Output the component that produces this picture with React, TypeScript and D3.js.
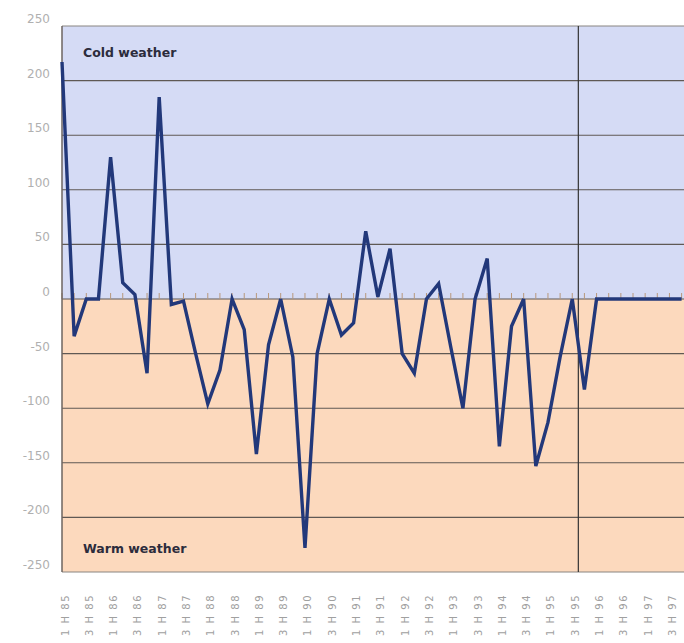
import React from "react";
import * as d3 from "d3";

const values: number[] = [
  217, -34, 0, 0, 130, 15, 4, -68, 185, -5, -2, -50, -96, -65, 0, -28,
  -142, -42, 0, -53, -228, -50, 0, -33, -22, 62, 2, 46, -50, -68, 0, 14,
  -44, -100, 0, 37, -135, -25, 0, -153, -113, -53, 0, -83, 0, 0, 0, 0,
  0, 0, 0, 0,
];

const tickLabels: string[] = [
  "1 H 85", "3 H 85", "1 H 86", "3 H 86", "1 H 87", "3 H 87", "1 H 88",
  "3 H 88", "1 H 89", "3 H 89", "1 H 90", "3 H 90", "1 H 91", "3 H 91",
  "1 H 92", "3 H 92", "1 H 93", "3 H 93", "1 H 94", "3 H 94", "1 H 95",
  "3 H 95", "1 H 96", "3 H 96", "1 H 97", "3 H 97",
];

const yTicks: number[] = [250, 200, 150, 100, 50, 0, -50, -100, -150, -200, -250];
const markerIndex = 42.5;
const zoneLabels: string[] = ["Cold weather", "Warm weather"];

export default function App() {
  const W = 684;
  const H = 643;
  const left = 62;
  const right = 684;
  const top = 26;
  const bottom = 572;

  const x = d3.scaleLinear().domain([0, values.length - 1]).range([left, 681.6]);
  const y = d3.scaleLinear().domain([-250, 250]).range([bottom, top]);

  const line = d3
    .line<number>()
    .x((_, i) => x(i))
    .y((d) => y(d));

  const font = "'DejaVu Sans', sans-serif";

  return (
    <svg
      width={W}
      height={H}
      style={{ position: "absolute", left: 0, top: 0, background: "#fff" }}
    >
      <rect x={left} y={y(250)} width={right - left} height={y(0) - y(250)} fill="#d5dbf5" />
      <rect x={left} y={y(0)} width={right - left} height={y(-250) - y(0)} fill="#fcd9bd" />

      {yTicks.map((t) => (
        <g key={t}>
          <line
            x1={left}
            x2={right}
            y1={y(t)}
            y2={y(t)}
            stroke={t === 250 || t === -250 ? "#8a8582" : "#5f5954"}
            strokeWidth={1.1}
          />
          <text
            x={50}
            y={y(t) - 3}
            textAnchor="end"
            fontFamily={font}
            fontSize={12}
            fill="#b0b0b0"
          >
            {t}
          </text>
        </g>
      ))}

      {values.map((_, i) => (
        <line
          key={"tk" + i}
          x1={x(i)}
          x2={x(i)}
          y1={y(0) - 6}
          y2={y(0)}
          stroke="#b8987c"
          strokeWidth={1}
        />
      ))}

      <line x1={left} x2={left} y1={top} y2={bottom} stroke="#6d6460" strokeWidth={1.5} />
      <line
        x1={x(markerIndex)}
        x2={x(markerIndex)}
        y1={top}
        y2={bottom}
        stroke="#333"
        strokeWidth={1.2}
      />

      <path
        d={line(values) || ""}
        fill="none"
        stroke="#22387a"
        strokeWidth={3.4}
        strokeLinejoin="miter"
      />

      <text x={83} y={57} fontFamily={font} fontWeight="bold" fontSize={12.5} fill="#2c2c3c">
        {zoneLabels[0]}
      </text>
      <text x={83} y={553} fontFamily={font} fontWeight="bold" fontSize={12.5} fill="#2c2c3c">
        {zoneLabels[1]}
      </text>

      {tickLabels.map((lab, k) => (
        <text
          key={lab}
          transform={`translate(${x(2 * k) + 3},594) rotate(-90)`}
          textAnchor="end"
          dy="0.35em"
          fontFamily={font}
          fontSize={10}
          letterSpacing={1.5}
          fill="#a0a0a0"
        >
          {lab}
        </text>
      ))}
    </svg>
  );
}
